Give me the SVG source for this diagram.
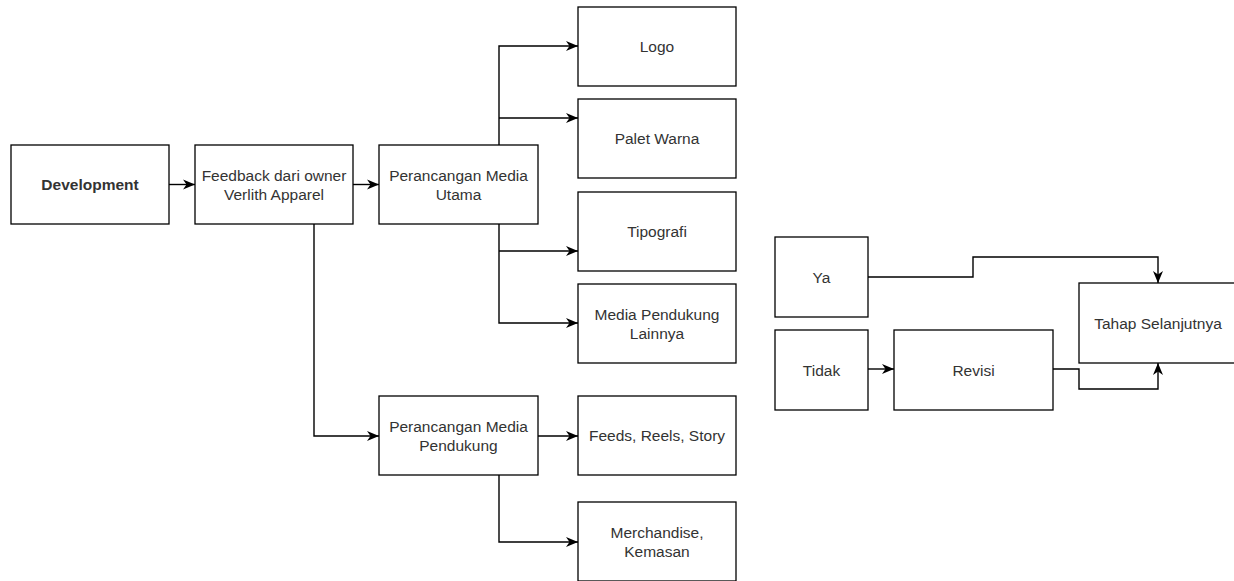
<svg xmlns="http://www.w3.org/2000/svg" width="1234" height="581" viewBox="0 0 1234 581">
<defs>
<style>
.box{fill:#fff;stroke:#000;stroke-width:1.3}
.t{font-family:"Liberation Sans",Arial,sans-serif;font-size:15.5px;fill:#333;text-anchor:middle}
.b{font-weight:bold}
.c{fill:none;stroke:#000;stroke-width:1.4}
</style>
<marker id="ah" markerUnits="userSpaceOnUse" markerWidth="13" markerHeight="13" viewBox="0 0 13 13" refX="12" refY="6.5" orient="auto">
<path d="M0,1.5 L12,6.5 L0,11.5 L3.5,6.5 Z" fill="#000"/>
</marker>
</defs>
<rect width="1234" height="581" fill="#fff"/>
<g id="connectors">
<path class="c" d="M169,184.5 H195" marker-end="url(#ah)"/>
<path class="c" d="M353,184.5 H379" marker-end="url(#ah)"/>
<path class="c" d="M499,145 V46 H578" marker-end="url(#ah)"/>
<path class="c" d="M499,118 H578" marker-end="url(#ah)"/>
<path class="c" d="M499,224 V323 H578" marker-end="url(#ah)"/>
<path class="c" d="M499,251 H578" marker-end="url(#ah)"/>
<path class="c" d="M314,224 V436 H379" marker-end="url(#ah)"/>
<path class="c" d="M538,436 H578" marker-end="url(#ah)"/>
<path class="c" d="M499,475 V542 H578" marker-end="url(#ah)"/>
<path class="c" d="M868,277 H973 V257 H1158 V283" marker-end="url(#ah)"/>
<path class="c" d="M868,369 H894" marker-end="url(#ah)"/>
<path class="c" d="M1053,369 H1079 V389 H1158 V363" marker-end="url(#ah)"/>
</g>
<g id="development"><rect class="box" x="11" y="145" width="158" height="79"/><text class="t b" x="90" y="190">Development</text></g>
<g id="feedback"><rect class="box" x="195" y="145" width="158" height="79"/><text class="t" x="274" y="180.5">Feedback dari owner</text><text class="t" x="274" y="199.5">Verlith Apparel</text></g>
<g id="utama"><rect class="box" x="379" y="145" width="159" height="79"/><text class="t" x="458.5" y="180.5">Perancangan Media</text><text class="t" x="458.5" y="199.5">Utama</text></g>
<g id="logo"><rect class="box" x="578" y="7" width="158" height="79"/><text class="t" x="657" y="52">Logo</text></g>
<g id="palet"><rect class="box" x="578" y="99" width="158" height="79"/><text class="t" x="657" y="144">Palet Warna</text></g>
<g id="tipografi"><rect class="box" x="578" y="192" width="158" height="79"/><text class="t" x="657" y="237">Tipografi</text></g>
<g id="lainnya"><rect class="box" x="578" y="284" width="158" height="79"/><text class="t" x="657" y="319.5">Media Pendukung</text><text class="t" x="657" y="338.5">Lainnya</text></g>
<g id="pendukung"><rect class="box" x="379" y="396" width="159" height="79"/><text class="t" x="458.5" y="431.5">Perancangan Media</text><text class="t" x="458.5" y="450.5">Pendukung</text></g>
<g id="feeds"><rect class="box" x="578" y="396" width="158" height="79"/><text class="t" x="657" y="441">Feeds, Reels, Story</text></g>
<g id="merch"><rect class="box" x="578" y="502" width="158" height="79"/><text class="t" x="657" y="537.5">Merchandise,</text><text class="t" x="657" y="556.5">Kemasan</text></g>
<g id="ya"><rect class="box" x="775" y="237" width="93" height="80"/><text class="t" x="821.5" y="282.5">Ya</text></g>
<g id="tidak"><rect class="box" x="775" y="330" width="93" height="80"/><text class="t" x="821.5" y="375.5">Tidak</text></g>
<g id="revisi"><rect class="box" x="894" y="330" width="159" height="80"/><text class="t" x="973.5" y="375.5">Revisi</text></g>
<g id="tahap"><rect class="box" x="1079" y="283" width="158" height="80"/><text class="t" x="1158" y="328.5">Tahap Selanjutnya</text></g>
</svg>
